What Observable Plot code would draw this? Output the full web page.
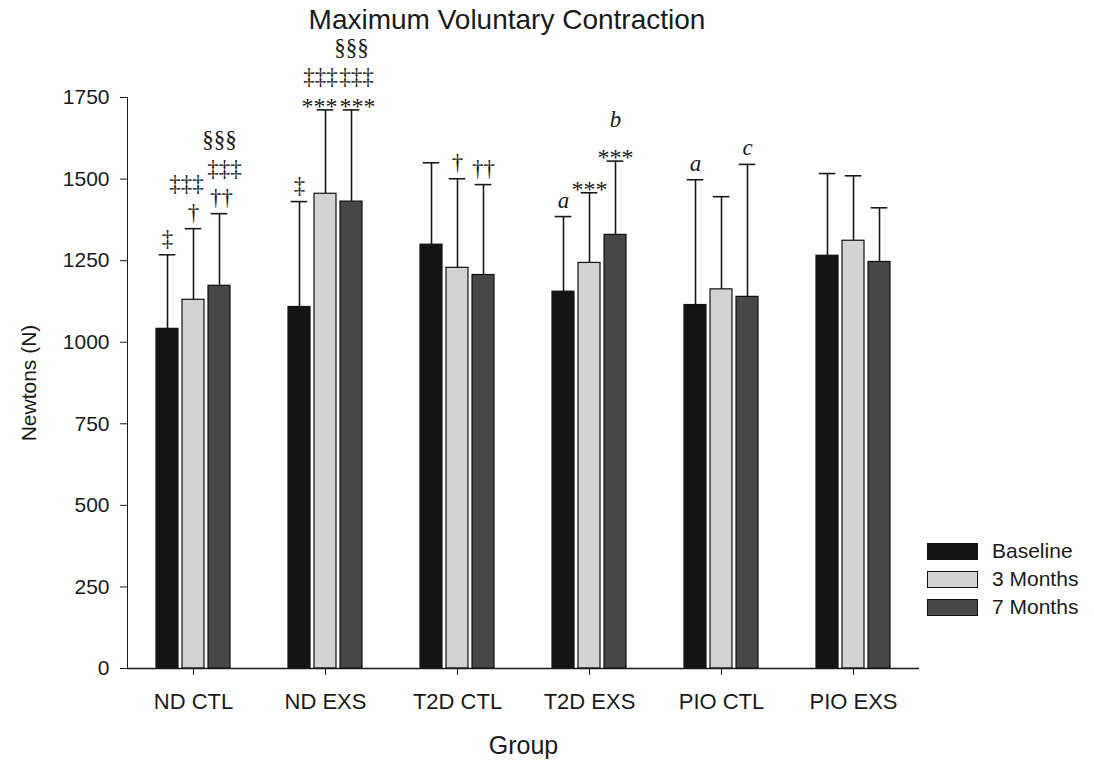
<!DOCTYPE html>
<html>
<head>
<meta charset="utf-8">
<script src="https://cdn.jsdelivr.net/npm/d3@7"></script>
<script src="https://cdn.jsdelivr.net/npm/@observablehq/plot@0.6"></script>
<style>
  html, body { margin: 0; padding: 0; background: #fff; }
  #page { position: relative; width: 1094px; height: 762px; font-family: "Liberation Sans", Arial, sans-serif; color: #1a1a1a; }
  #title { height: 36px; padding-top: 4px; width: 1014px; text-align: center; font-size: 28px; line-height: 32px; }
  #legend { position: absolute; left: 927px; top: 543px; font-size: 21px; }
  .row { display: flex; align-items: center; height: 28px; }
  .row:first-child { margin-top: -6px; }
  .sw { width: 49px; height: 15px; border: 1px solid #111; margin-right: 14px; }
</style>
</head>
<body>
<div id="page">
  <div id="title">Maximum Voluntary Contraction</div>
  <div id="chart"></div>
  <div id="legend"></div>
</div>
<script>
// Groups and time points
const groups = ["ND CTL", "ND EXS", "T2D CTL", "T2D EXS", "PIO CTL", "PIO EXS"];
const seriesNames = ["Baseline", "3 Months", "7 Months"];

// Mean force (N) per group at each time point
const baselineMean = [1041, 1108, 1299, 1155, 1114, 1265];
const months3Mean  = [1130, 1455, 1228, 1243, 1162, 1311];
const months7Mean  = [1173, 1431, 1206, 1329, 1139, 1246];

// Standard deviations (upper error bars)
const baselineSD = [227, 323, 251, 230, 384, 252];
const months3SD  = [218, 257, 273, 215, 284, 199];
const months7SD  = [221, 281, 277, 226, 406, 166];

// Y axis ticks
const yTicks = [0, 250, 500, 750, 1000, 1250, 1500, 1750];

// Significance markers, listed from the error bar upwards
const notes = [
  {group: "ND CTL",  series: "Baseline", marks: ["‡"]},
  {group: "ND CTL",  series: "3 Months", marks: ["†", "‡‡‡"]},
  {group: "ND CTL",  series: "7 Months", marks: ["††", "‡‡‡", "§§§"]},
  {group: "ND EXS",  series: "Baseline", marks: ["‡"]},
  {group: "ND EXS",  series: "3 Months", marks: ["***", "‡‡‡"]},
  {group: "ND EXS",  series: "7 Months", marks: ["***", "‡‡‡", "§§§"]},
  {group: "T2D CTL", series: "3 Months", marks: ["†"]},
  {group: "T2D CTL", series: "7 Months", marks: ["††"]},
  {group: "T2D EXS", series: "Baseline", marks: ["a"]},
  {group: "T2D EXS", series: "3 Months", marks: ["***"]},
  {group: "T2D EXS", series: "7 Months", marks: ["***", "b"]},
  {group: "PIO CTL", series: "Baseline", marks: ["a"]},
  {group: "PIO CTL", series: "7 Months", marks: ["c"]}
];

const seriesColors = ["#141414", "#d3d3d3", "#474747"];

// Layout
const W = 1094, H = 722;
const M = {top: 57, right: 175, bottom: 94, left: 126};
const xPadInner = 0.17, xPadOuter = 1.079;
const yDomain = [0, 1750];

const means = [baselineMean, months3Mean, months7Mean];
const sds = [baselineSD, months3SD, months7SD];
const rows = groups.flatMap((group, i) =>
  seriesNames.map((series, j) => ({
    group, series,
    value: means[j][i],
    upper: means[j][i] + sds[j][i]
  }))
);
const upperOf = (g, s) => rows.find(r => r.group === g && r.series === s).upper;

// Stack the markers above each cap; glyph kinds sit differently on their baseline
const kindOf = t => /\*/.test(t) ? "star" : /^[a-z]$/.test(t) ? "letter" : "dagger";
const firstGap = {dagger: 5, star: 6, letter: 9};
const stackGap = {dagger: 5, star: 6, letter: 17};
const glyphHeight = {dagger: 24, star: 11, letter: 14};
const belowBaseline = {dagger: 4, star: -10, letter: 0};
const glyphSize = {dagger: 23, star: 24, letter: 23};

// Pixel helpers mirroring the plot's scales, used to keep neighbouring stacks apart
const facetWidth = (W - M.left - M.right) / groups.length;
const xBand = d3.scaleBand(seriesNames, [0, facetWidth]).paddingInner(xPadInner).paddingOuter(xPadOuter);
const yPx = d3.scaleLinear(yDomain, [H - M.bottom, M.top]);

const noteRows = notes.flatMap(n => {
  let bottom = 0;
  const upper = upperOf(n.group, n.series);
  return n.marks.map((t, i) => {
    const k = kindOf(t);
    bottom += i === 0 ? firstGap[k] : stackGap[k];
    const dy = -(bottom + belowBaseline[k]);
    bottom += glyphHeight[k];
    const cx = xBand(n.series) + xBand.bandwidth() / 2;
    const w = t.length * 0.5 * glyphSize[k];
    const yBottom = yPx(upper) - (bottom - glyphHeight[k]);
    return {group: n.group, series: n.series, upper, text: t, dy, dx: 0, kind: k,
            left: cx - w / 2, right: cx + w / 2, top: yBottom - glyphHeight[k], bottom: yBottom};
  });
});

// Where two adjacent stacks would collide, spread them apart symmetrically
for (const a of noteRows) {
  for (const b of noteRows) {
    if (a.group !== b.group) continue;
    if (seriesNames.indexOf(b.series) - seriesNames.indexOf(a.series) !== 1) continue;
    if (!(a.top < b.bottom && b.top < a.bottom)) continue;
    const overlap = a.right - b.left;
    if (overlap > -1) {
      const shift = Math.round(overlap / 2 + 1);
      a.dx -= shift;
      b.dx += shift;
    }
  }
}

const noteMarks = d3.groups(noteRows, d => `${d.dy}|${d.dx}|${d.kind}`).map(([, data]) => {
  const {dy, dx, kind} = data[0];
  return Plot.text(data, {
    fx: "group", x: "series", y: "upper", text: "text",
    dx, dy, lineAnchor: "bottom", textAnchor: "middle",
    fontFamily: "'Liberation Serif', 'Times New Roman', serif",
    fontSize: glyphSize[kind], fontStyle: kind === "letter" ? "italic" : "normal",
    fill: "#1a1a1a"
  });
});

const chart = Plot.plot({
  width: W,
  height: H,
  marginTop: M.top,
  marginBottom: M.bottom,
  marginLeft: M.left,
  marginRight: M.right,
  style: {fontSize: "21px", fontFamily: "'Liberation Sans', Arial, sans-serif", color: "#1a1a1a", background: "#fff", overflow: "visible"},
  fx: {domain: groups, padding: 0},
  x: {domain: seriesNames, axis: null, paddingInner: xPadInner, paddingOuter: xPadOuter},
  y: {domain: yDomain, ticks: yTicks, tickSize: 7, tickPadding: 11, tickFormat: d3.format("d"), line: true,
      label: "Newtons (N)", labelAnchor: "center", labelOffset: 106, labelArrow: "none"},
  color: {domain: seriesNames, range: seriesColors},
  marks: [
    Plot.axisFx({anchor: "bottom", tickSize: 7, tickPadding: 18, fontSize: 22, label: null}),
    Plot.axisFx({anchor: "bottom", ticks: [], tickSize: 0, fontSize: 25, label: "Group", labelAnchor: "center", labelOffset: 85}),
    Plot.ruleX(rows, {fx: "group", x: "series", y1: "value", y2: "upper", stroke: "#1a1a1a", strokeWidth: 1.6}),
    Plot.tickY(rows, {fx: "group", x: "series", y: "upper", stroke: "#1a1a1a", strokeWidth: 1.6, insetLeft: 2.7, insetRight: 2.7}),
    Plot.barY(rows, {fx: "group", x: "series", y: "value", fill: "series", stroke: "#111", strokeWidth: 1.2}),
    ...noteMarks,
    Plot.ruleY([0], {stroke: "#1a1a1a", strokeWidth: 1.4})
  ]
});
document.getElementById("chart").append(chart);

// Legend swatches
const legend = document.getElementById("legend");
seriesNames.forEach((name, i) => {
  const row = document.createElement("div");
  row.className = "row";
  const sw = document.createElement("div");
  sw.className = "sw";
  sw.style.background = seriesColors[i];
  const label = document.createElement("span");
  label.textContent = name;
  row.append(sw, label);
  legend.append(row);
});
</script>
</body>
</html>
